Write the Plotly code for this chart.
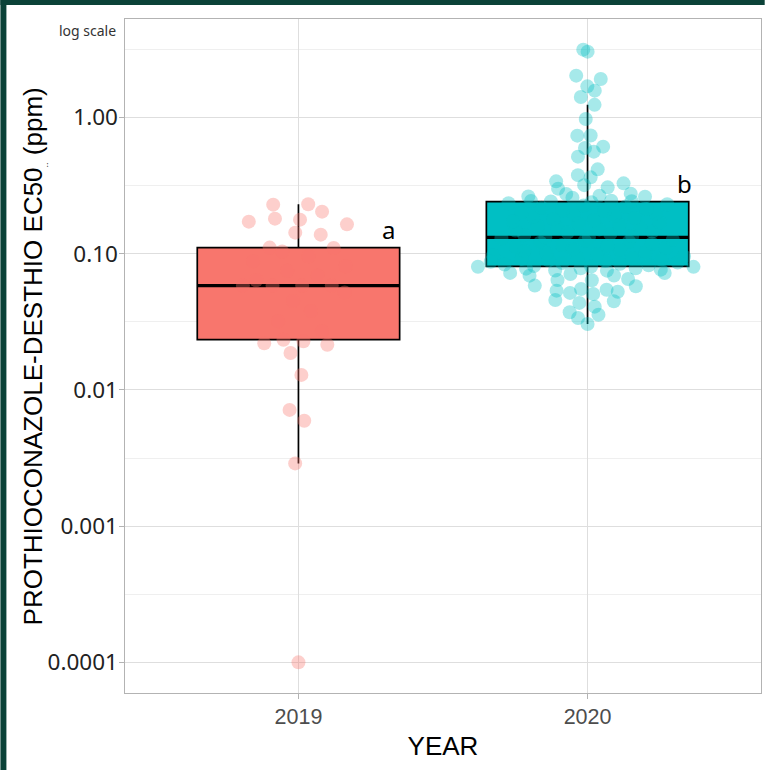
import numpy as np
import plotly.graph_objects as go

# ---------------- data ----------------
years = ["2019", "2020"]

# EC50 values (ppm), sorted ascending; values inside the boxes are hidden in the
# picture and are estimated so that the quartiles match the drawn boxes.
ec50_2019 = [
    0.0001, 0.00289, 0.00595, 0.00714, 0.0129, 0.0187, 0.0215, 0.0220, 0.0228, 0.0234,
    0.027, 0.032, 0.038, 0.045, 0.052,
    0.0584, 0.0584, 0.0584, 0.0584,
    0.064, 0.069, 0.075, 0.081, 0.088, 0.096, 0.104,
    0.1104, 0.1110, 0.1382, 0.1429, 0.1645, 0.1722, 0.1781, 0.1811, 0.2039, 0.2296, 0.2310,
]

ec50_2020 = [
    0.0305, 0.0338, 0.0357, 0.0372, 0.0409, 0.0436, 0.0448, 0.0458, 0.0507, 0.0516,
    0.0527, 0.0536, 0.0545, 0.0552, 0.0577, 0.0584, 0.0640, 0.0641, 0.0653, 0.0691,
    0.0692, 0.0711, 0.0723, 0.0724, 0.0752, 0.0753, 0.0765, 0.0778, 0.0782, 0.0783,
    0.0802, 0.0803,
    0.0806, 0.0814, 0.0824, 0.0834, 0.0844, 0.0854, 0.0864, 0.0874, 0.0885, 0.0895,
    0.0906, 0.0917, 0.0928, 0.0939, 0.0956, 0.0974,
    0.0992, 0.101, 0.103, 0.105, 0.107, 0.108, 0.110, 0.112, 0.114, 0.116,
    0.119, 0.121, 0.123, 0.125, 0.127, 0.130,
    0.132, 0.132,
    0.135, 0.137, 0.140, 0.143, 0.145, 0.148, 0.151, 0.154, 0.157, 0.160,
    0.163, 0.166, 0.170, 0.173, 0.176, 0.180, 0.183, 0.187, 0.190, 0.194,
    0.198, 0.201, 0.206, 0.209, 0.213, 0.218, 0.222, 0.226, 0.231, 0.235, 0.239,
    0.2425, 0.2435, 0.2445, 0.2455, 0.2584, 0.2627, 0.2638, 0.2672, 0.2750, 0.2765,
    0.3008, 0.3075, 0.3191, 0.3290, 0.3403, 0.3641, 0.3779, 0.4169, 0.5167, 0.5623,
    0.5984, 0.6118, 0.7372, 0.7385, 0.9775, 1.24, 1.418, 1.577, 1.696, 1.922,
    2.032, 3.05, 3.155,
]

group_letters = ["a", "b"]
letter_x = [0.31, 1.335]          # letter positions (x in category units)
letter_y = [0.152, 0.326]         # letter positions (y in ppm)

ytick_vals = [1, 0.1, 0.01, 0.001, 0.0001]
ytick_text = ["1.00", "0.10", "0.01", "0.001", "0.0001"]

y_title = "PROTHIOCONAZOLE-DESTHIO EC50<sub><span style='font-size:9px'>..</span></sub> (ppm)"
x_title = "YEAR"

# ---------------- styling ----------------
fill_colors = ["#F8766D", "#00BFC4"]
point_alpha = 0.35
point_size = 14
box_width = 0.7
W, H = 765, 770
ML, MR, MT, MB = 124.7, 3.7, 19, 77
plot_w = W - ML - MR
plot_h = H - MT - MB


# ---------------- helpers: ggplot-like stats ----------------
def van_der_corput(n):
    out = []
    for i in range(1, n + 1):
        q, denom, k = 0.0, 1.0, i
        while k > 0:
            denom *= 2
            q += (k % 2) / denom
            k //= 2
        out.append(q)
    return np.array(out)


def bw_nrd0(x):
    x = np.asarray(x, float)
    hi = np.std(x, ddof=1)
    iqr = np.quantile(x, 0.75) - np.quantile(x, 0.25)
    lo = min(hi, iqr / 1.34)
    if lo <= 0:
        lo = hi if hi > 0 else 1.0
    return 0.9 * lo * len(x) ** -0.2


def quasirandom_offsets(logv, max_n, width=0.4, adjust=0.5, nbins=1024):
    logv = np.asarray(logv, float)
    n = len(logv)
    bw = bw_nrd0(logv) * adjust
    grid = np.linspace(logv.min() - 3 * bw, logv.max() + 3 * bw, nbins)
    dens = np.exp(-0.5 * ((grid[:, None] - logv[None, :]) / bw) ** 2).sum(axis=1)
    dens /= dens.max()
    off = np.interp(logv, grid, dens)
    order = np.argsort(logv, kind="stable")
    ranks = np.empty(n, int)
    ranks[order] = np.arange(n)
    q = van_der_corput(n)[ranks]
    return (q - 0.5) * 2 * off * width * np.sqrt(n / max_n)


def box_stats(v):
    lv = np.log10(np.asarray(v, float))
    q1, med, q3 = np.quantile(lv, [0.25, 0.5, 0.75])
    iqr = q3 - q1
    lo = lv[lv >= q1 - 1.5 * iqr].min()
    hi = lv[lv <= q3 + 1.5 * iqr].max()
    return [10 ** s for s in (q1, med, q3, lo, hi)]


groups = [ec50_2019, ec50_2020]
max_n = max(len(g) for g in groups)

fig = go.Figure()

# boxes
for i, vals in enumerate(groups):
    q1, med, q3, lo, hi = box_stats(vals)
    fig.add_trace(go.Box(
        x=[i], q1=[q1], median=[med], q3=[q3], lowerfence=[lo], upperfence=[hi],
        width=box_width, whiskerwidth=0, boxpoints=False,
        fillcolor=fill_colors[i], line=dict(color="black", width=1.7),
        showlegend=False, hoverinfo="skip",
    ))

# thick median lines (ggplot fatten = 2)
for i, vals in enumerate(groups):
    q1, med, q3, lo, hi = box_stats(vals)
    fig.add_trace(go.Scatter(
        x=[i - box_width / 2, i + box_width / 2], y=[med, med], mode="lines",
        line=dict(color="black", width=3.4), showlegend=False, hoverinfo="skip",
    ))

# quasirandom (beeswarm-like) points
for i, vals in enumerate(groups):
    off = quasirandom_offsets(np.log10(vals), max_n)
    fig.add_trace(go.Scatter(
        x=i + off, y=vals, mode="markers",
        marker=dict(size=point_size, color=fill_colors[i], opacity=point_alpha,
                    line=dict(width=0)),
        showlegend=False, hoverinfo="skip",
    ))

# y range: data range in log10 expanded by 5 %
all_log = np.log10(np.concatenate([np.asarray(g, float) for g in groups]))
span = all_log.max() - all_log.min()
y_range = [all_log.min() - 0.05 * span, all_log.max() + 0.05 * span]

minor_vals = [v * np.sqrt(10) for v in ytick_vals]

axis_common = dict(
    showline=True, linecolor="#B3B3B3", linewidth=1.1, mirror=True,
    ticks="outside", ticklen=4.5, tickcolor="#B3B3B3", tickwidth=1.1,
    showgrid=True, gridcolor="#DEDEDE", gridwidth=1.1, zeroline=False,
)

fig.update_xaxes(
    range=[-0.6, len(years) - 1 + 0.6], tickmode="array",
    tickvals=list(range(len(years))), ticktext=years,
    tickfont=dict(family="Liberation Sans, Arial, sans-serif", size=21.5, color="#4D4D4D"),
    title=dict(text=x_title, font=dict(family="Liberation Sans, Arial, sans-serif",
                                        size=26, color="black"), standoff=8),
    **axis_common,
)

fig.update_yaxes(
    type="log", range=y_range, tickmode="array",
    tickvals=ytick_vals, ticktext=ytick_text, ticklabelstandoff=-3,
    tickfont=dict(family="Noto Sans, Open Sans, sans-serif", size=22.5, color="#222222"),
    minor=dict(tickvals=minor_vals, showgrid=True, gridcolor="#EFEFEF", gridwidth=1,
               ticks=""),
    **axis_common,
)

annotations = [
    dict(text=y_title, xref="paper", yref="paper",
         x=(33 - ML) / plot_w, y=0.5, xanchor="center", yanchor="middle",
         textangle=-90, showarrow=False,
         font=dict(family="Liberation Sans, Arial, sans-serif", size=26, color="black")),
    dict(text="log scale", xref="paper", yref="paper",
         x=(117.5 - ML) / plot_w, y=(H - MB - 31) / plot_h,
         xanchor="right", yanchor="middle", showarrow=False,
         font=dict(family="Noto Sans, sans-serif", size=14, color="#333333")),
]
for i, letter in enumerate(group_letters):
    annotations.append(dict(
        text=letter, x=letter_x[i], y=np.log10(letter_y[i]), xref="x", yref="y",
        xanchor="center", yanchor="middle", showarrow=False,
        font=dict(family="Noto Sans, sans-serif", size=24, color="black")))

band = "#0B4238"
shapes = [
    dict(type="rect", xref="paper", yref="paper", line=dict(width=0), fillcolor=band,
         x0=(0 - ML) / plot_w, x1=(6 - ML) / plot_w,
         y0=(H - MB - H) / plot_h, y1=(H - MB) / plot_h),
    dict(type="rect", xref="paper", yref="paper", line=dict(width=0), fillcolor=band,
         x0=(0 - ML) / plot_w, x1=(W - ML) / plot_w,
         y0=(H - MB - 5) / plot_h, y1=(H - MB) / plot_h),
]

fig.update_layout(
    width=W, height=H,
    margin=dict(l=ML, r=MR, t=MT, b=MB, pad=0),
    paper_bgcolor="white", plot_bgcolor="white",
    annotations=annotations, shapes=shapes,
    hovermode=False, showlegend=False,
)

fig.write_html(
    "out.html",
    config={"displayModeBar": False},
    post_script="document.body.style.margin='0px';document.body.style.overflow='hidden';",
)
